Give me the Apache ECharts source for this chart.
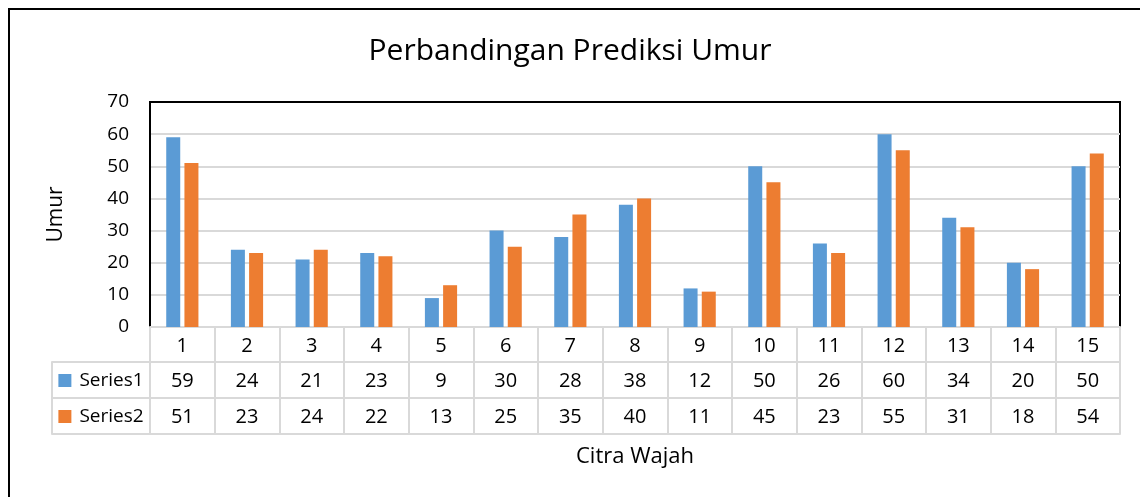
<!DOCTYPE html>
<html>
<head>
<meta charset="utf-8">
<script src="https://cdn.jsdelivr.net/npm/echarts@6/dist/echarts.min.js"></script>
<style>
  html, body { margin: 0; padding: 0; background: #fff; }
  #main { width: 1140px; height: 497px; }
</style>
</head>
<body>
<div id="main"></div>
<script>
var dom = document.getElementById("main");
var myChart = echarts.init(dom);

// data
var categories = ['1','2','3','4','5','6','7','8','9','10','11','12','13','14','15'];
var series1 = [59,24,21,23,9,30,28,38,12,50,26,60,34,20,50];
var series2 = [51,23,24,22,13,25,35,40,11,45,23,55,31,18,54];
var seriesNames = ['Series1','Series2'];
var yTicks = [0,10,20,30,40,50,60,70];

var blue = '#5b9bd5', orange = '#ed7d31';
var font = 'Open Sans';
var lineGray = '#d9d9d9';

// one row of the data table under the plot = one extra category axis
function tableAxis(grid, data, offset, tickLen, labelRich) {
    return {
        type: 'category',
        gridIndex: grid,
        position: 'bottom',
        offset: offset,
        data: data,
        boundaryGap: true,
        axisLine: { show: true, onZero: false, lineStyle: { color: lineGray, width: 2 } },
        axisTick: { show: tickLen > 0, interval: 0, length: tickLen, lineStyle: { color: lineGray, width: 2 } },
        axisLabel: {
            show: data.length > 0, interval: 0, margin: 9,
            color: '#000', fontFamily: font, fontSize: 20,
            formatter: labelRich ? function (v) { return '{sq|}{t|' + v + '}'; } : null,
            rich: labelRich || undefined
        },
        splitLine: { show: false }
    };
}

function legendRich(color) {
    return {
        sq: { width: 13, height: 13, backgroundColor: color },
        t: { fontFamily: font, fontSize: 19, color: '#000', padding: [0, 0, 0, 8] }
    };
}

var option = {
    animation: false,
    backgroundColor: '#fff',
    title: {
        text: 'Perbandingan Prediksi Umur',
        left: 'center',
        top: 31,
        textStyle: { fontFamily: font, fontSize: 30, fontWeight: 'normal', color: '#000' }
    },
    graphic: [{
        type: 'rect',
        shape: { x: 9, y: 9, width: 1200, height: 600 },
        style: { fill: null, stroke: '#000', lineWidth: 2 },
        silent: true
    }],
    grid: [
        { left: 150, right: 20, top: 102, bottom: 170, show: true, borderColor: '#000', borderWidth: 2 },
        { left: 52, right: 990, top: 102, bottom: 170, show: false }
    ],
    xAxis: [
        tableAxis(0, categories, 0, 35),
        tableAxis(0, series1.map(String), 35, 36),
        tableAxis(0, series2.map(String), 71, 36),
        Object.assign(tableAxis(0, [], 107, 0), {
            name: 'Citra Wajah', nameLocation: 'middle', nameGap: 12,
            nameTextStyle: { fontFamily: font, fontSize: 22, color: '#000' }
        }),
        tableAxis(1, [seriesNames[0]], 35, 36, legendRich(blue)),
        tableAxis(1, [seriesNames[1]], 71, 36, legendRich(orange)),
        tableAxis(1, [], 107, 0)
    ],
    yAxis: [{
        type: 'value',
        gridIndex: 0,
        min: yTicks[0], max: yTicks[yTicks.length - 1], interval: 10,
        name: 'Umur', nameLocation: 'middle', nameGap: 83, nameRotate: 90,
        nameTextStyle: { fontFamily: font, fontSize: 21, color: '#000' },
        axisLine: { show: true, onZero: false, lineStyle: { color: '#000', width: 2 } },
        axisTick: { show: false },
        axisLabel: { margin: 21, color: '#000', fontFamily: font, fontSize: 19 },
        splitLine: { showMinLine: false, showMaxLine: false, lineStyle: { color: lineGray, width: 2 } }
    }, {
        type: 'value', gridIndex: 1, show: false
    }],
    series: [{
        name: seriesNames[0], type: 'bar', xAxisIndex: 0, yAxisIndex: 0,
        data: series1, barWidth: 14, barGap: '30%',
        itemStyle: { color: blue }
    }, {
        name: seriesNames[1], type: 'bar', xAxisIndex: 0, yAxisIndex: 0,
        data: series2, barWidth: 14, barGap: '30%',
        itemStyle: { color: orange }
    }]
};
myChart.setOption(option);
</script>
</body>
</html>
